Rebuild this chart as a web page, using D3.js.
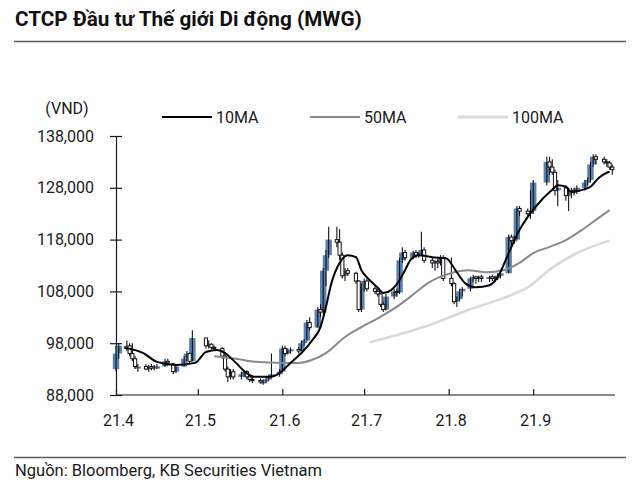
<!DOCTYPE html>
<html><head><meta charset="utf-8">
<script src="https://cdn.jsdelivr.net/npm/d3@7"></script>
<style>html,body{margin:0;padding:0;background:#fff;} svg{display:block;font-family:Roboto,"Noto Sans",sans-serif;}</style>
</head><body><svg id="c" width="640" height="489"></svg>
<script>
// ---- DATA (prices in thousand VND) ----
const titleText = "CTCP Đầu tư Thế giới Di động (MWG)";
const sourceText = "Nguồn: Bloomberg, KB Securities Vietnam";
const unitLabel = "(VND)";
const seriesNames = ["10MA", "50MA", "100MA"];
const yTicks = [88000, 98000, 108000, 118000, 128000, 138000];
const xTickMonths = ["2021-04-01","2021-05-01","2021-06-01","2021-07-01","2021-08-01","2021-09-01"];

const dates = ["04-01","04-02","04-05","04-06","04-07","04-08","04-09","04-12","04-13","04-14","04-15","04-16","04-19","04-20","04-22","04-23","04-26","04-27","04-28","04-29",
"05-04","05-05","05-06","05-07","05-10","05-11","05-12","05-13","05-14","05-17","05-18","05-19","05-20","05-21","05-24","05-25","05-26","05-27","05-28","05-31",
"06-01","06-02","06-03","06-04","06-07","06-08","06-09","06-10","06-11","06-14","06-15","06-16","06-17","06-18","06-21","06-22","06-23","06-24","06-25","06-28","06-29","06-30",
"07-01","07-02","07-05","07-06","07-07","07-08","07-09","07-12","07-13","07-14","07-15","07-16","07-19","07-20","07-21","07-22","07-23","07-26","07-27","07-28","07-29","07-30",
"08-02","08-03","08-04","08-05","08-06","08-09","08-10","08-11","08-12","08-13","08-16","08-17","08-18","08-19","08-20","08-23","08-24","08-25","08-26","08-27","08-30","08-31",
"09-01","09-06","09-07","09-08","09-09","09-10","09-13","09-14","09-15","09-16","09-17","09-20","09-21","09-22","09-23","09-24","09-27","09-28","09-29","09-30"];

const open = [93.0,96.0,97.5,97.5,96.0,95.0,93.5,93.5,93.0,93.5,93.2,93.5,93.5,94.5,94.0,92.5,93.5,95.0,96.0,94.5,
99.0,97.5,97.8,97.2,97.0,95.5,93.0,91.5,92.5,91.5,92.0,92.5,91.5,91.0,90.8,90.5,90.6,91.0,91.5,92.0,
92.5,97.0,96.0,96.5,96.8,96.5,98.0,98.5,102.0,101.0,104.5,104.0,112.0,115.0,118.0,117.5,115.0,111.0,112.0,111.5,110.0,104.5,
109.0,110.0,108.5,108.0,107.5,105.5,104.5,107.0,108.0,107.8,114.0,115.5,114.5,115.5,115.0,115.2,116.0,114.0,113.5,113.8,113.5,114.5,
110.5,109.5,106.0,106.5,108.0,108.5,110.5,110.8,110.5,110.8,110.5,110.8,110.5,110.8,111.0,111.5,118.5,117.8,118.0,124.0,123.5,123.0,
123.5,129.0,133.0,132.0,131.0,127.5,128.0,126.5,127.0,127.5,127.2,128.0,129.0,129.5,132.5,134.0,133.5,133.0,132.8,132.0];
const high = [97.5,98.0,98.5,98.0,98.0,95.5,94.0,94.0,93.8,94.0,93.8,94.0,95.0,95.0,94.2,93.8,95.5,96.5,96.2,100.5,
99.0,98.5,98.0,97.5,97.2,96.0,93.5,93.0,93.0,92.5,92.8,92.8,91.8,91.5,91.2,91.0,91.2,91.8,96.0,93.0,
97.5,97.5,97.0,97.2,97.2,98.5,98.8,102.5,103.0,105.0,105.5,112.5,116.0,120.5,120.5,120.0,115.5,112.5,112.5,111.8,110.2,109.5,
110.5,110.5,109.0,108.5,107.8,106.0,107.5,108.5,108.5,114.5,116.5,116.0,115.8,116.0,115.5,119.5,116.5,114.5,114.0,114.2,115.0,115.0,
114.5,109.8,107.0,108.5,108.8,110.8,111.2,111.0,111.0,111.2,111.0,111.2,111.0,111.5,112.0,119.0,119.0,118.8,124.5,124.5,124.0,127.5,
129.5,134.0,134.0,133.5,131.5,129.5,128.5,128.0,128.0,128.0,128.5,129.5,130.0,133.0,134.5,134.5,134.0,133.5,133.2,132.5];
const low = [92.5,95.0,96.5,95.5,94.5,93.0,92.5,92.8,92.5,92.8,92.8,93.0,93.5,93.8,92.0,92.2,93.5,94.5,94.0,94.5,
97.0,97.0,96.8,96.5,95.0,92.5,90.5,91.0,91.0,91.0,91.5,91.0,90.5,90.3,90.2,90.0,90.3,90.8,91.2,91.5,
92.5,95.5,95.8,96.0,96.0,96.5,97.5,98.5,100.5,101.0,103.0,103.5,109.0,114.5,116.5,114.0,110.5,110.0,111.0,109.5,104.0,104.0,
108.0,108.0,107.5,107.0,105.0,104.0,104.3,106.5,107.0,107.5,113.5,114.0,114.2,114.5,114.5,115.0,113.5,112.5,112.0,112.5,113.0,110.0,
109.0,105.5,105.0,106.2,107.0,108.0,109.8,109.5,109.8,109.8,109.8,110.0,109.8,110.2,110.5,111.5,117.0,117.2,118.0,122.5,122.5,122.0,
123.0,128.5,130.5,130.5,126.5,124.5,125.5,123.5,126.0,126.5,126.8,127.5,128.5,129.0,132.0,132.5,132.5,132.0,131.5,130.5];
const close = [96.0,97.5,97.5,96.0,95.0,93.5,93.5,93.0,93.5,93.2,93.5,93.5,94.5,94.2,92.5,93.5,95.0,96.0,94.5,99.0,
97.5,97.8,97.2,97.0,95.5,93.0,91.5,92.5,91.5,92.0,92.5,91.5,91.0,90.8,90.5,90.6,91.0,91.5,92.0,92.5,
97.0,96.0,96.5,96.8,96.5,98.0,98.5,102.0,101.0,104.5,104.0,112.0,115.0,118.0,117.5,115.0,111.0,112.0,111.5,110.0,104.5,109.0,
110.0,108.5,108.0,107.5,105.5,104.5,107.0,108.0,107.8,114.0,115.5,114.5,115.5,115.0,115.2,116.0,114.0,113.5,113.8,113.5,114.5,110.5,
109.5,106.0,106.5,108.0,108.5,110.5,110.8,110.5,110.8,110.5,110.8,110.5,110.8,111.0,111.5,118.5,117.8,118.0,124.0,123.5,123.0,123.5,
129.0,133.0,132.0,131.0,127.5,128.0,126.5,127.0,127.5,127.2,128.0,129.0,129.5,132.5,134.0,133.5,133.0,132.8,132.0,131.5];

const ma10 = [["04-04",97.1],["04-11",96.1],["04-16",94.4],["04-23",93.8],["04-30",94.2],["05-04",96.3],["05-08",96.7],["05-11",96.1],["05-15",94.2],["05-19",92.2],["05-22",91.5],["05-27",91.5],["05-30",91.9],["06-04",94.2],["06-08",96.1],["06-12",98.6],["06-15",101.1],["06-17",105.0],["06-19",109.6],["06-22",113.5],["06-25",115.0],["06-28",114.6],["06-30",112.1],["07-03",110.2],["07-06",108.7],["07-08",107.7],["07-11",108.3],["07-14",110.2],["07-16",112.1],["07-18",114.1],["07-21",115.0],["07-26",114.6],["07-31",114.4],["08-04",111.7],["08-07",109.6],["08-11",108.8],["08-16",109.2],["08-19",110.8],["08-23",115.4],["08-27",119.9],["08-30",122.4],["09-04",125.6],["09-08",127.6],["09-10",128.5],["09-13",128.2],["09-15",127.2],["09-19",127.6],["09-22",128.2],["09-25",129.9],["09-28",130.9],["09-29",131.1]];
const ma50 = [["05-07",95.5],["05-15",95.0],["05-22",94.4],["06-01",94.2],["06-07",94.2],["06-12",94.8],["06-17",96.1],["06-24",99.2],["06-30",101.1],["07-07",103.1],["07-14",105.4],["07-18",107.0],["07-25",109.8],["07-28",110.6],["08-03",111.7],["08-08",112.1],["08-15",111.7],["08-21",112.1],["08-27",113.5],["09-01",115.4],["09-07",116.6],["09-13",117.9],["09-19",119.9],["09-25",122.2],["09-29",123.7]];
const ma100 = [["07-03",98.2],["07-09",99.0],["07-16",100.0],["07-25",101.5],["08-01",102.9],["08-08",104.4],["08-21",106.7],["08-30",108.8],["09-08",112.6],["09-17",115.4],["09-29",117.8]];

// ---- CHART ----
const svg = d3.select("#c");
const parse = s => d3.timeParse("%Y-%m-%d")("2021-" + s);
const x = d3.scaleTime().domain([new Date(2021,3,1), new Date(2021,9,1)]).range([116, 615]);
const y = d3.scaleLinear().domain([88000, 138000]).range([395, 136]);
const K = 1000;
const ink = "#1a1a1a";
const blue = "#5a80b0";

// title
const t = svg.append("text").attr("x", 15).attr("y", 26).attr("font-weight", 700)
  .attr("font-size", 18).attr("fill", "#111").text(titleText);
const tw = t.node().getComputedTextLength();
t.attr("font-size", 18 * 347 / tw);
svg.append("line").attr("x1", 14).attr("x2", 626).attr("y1", 41.5).attr("y2", 41.5)
  .attr("stroke", "#5a5a5a").attr("stroke-width", 1.6);

// unit
svg.append("text").attr("x", 67).attr("y", 114).attr("text-anchor", "middle")
  .attr("font-size", 16).attr("fill", ink).text(unitLabel);

// legend
const legColors = ["#000000", "#8a8a8a", "#d9d9d9"];
const legX = [162, 310, 458];
seriesNames.forEach((n, i) => {
  svg.append("line").attr("x1", legX[i]).attr("x2", legX[i] + 50).attr("y1", 117).attr("y2", 117)
    .attr("stroke", legColors[i]).attr("stroke-width", i === 2 ? 3 : 2);
  svg.append("text").attr("x", legX[i] + 54).attr("y", 122.5).attr("font-size", 16).attr("fill", ink).text(n);
});

// y axis
const ya = svg.append("g").attr("transform", "translate(116,0)")
  .call(d3.axisLeft(y).tickValues(yTicks).tickFormat(d3.format(",")).tickSizeInner(6).tickSizeOuter(0).tickPadding(16));
ya.select(".domain").attr("stroke", ink).attr("stroke-width", 1.2);
ya.selectAll(".tick line").attr("x2", 6).attr("x1", -6).attr("stroke", ink).attr("stroke-width", 1.2);
ya.selectAll(".tick text").attr("font-size", 16).attr("font-family", "Roboto").attr("fill", ink).attr("x", -22);

// x axis
const xa = svg.append("g").attr("transform", "translate(0,395)")
  .call(d3.axisBottom(x).tickValues(xTickMonths.map(s => new Date(s + "T00:00:00"))).tickFormat(d3.timeFormat("%y.%-m")).tickSizeOuter(0).tickPadding(14));
xa.select(".domain").attr("stroke", ink).attr("stroke-width", 1.2).attr("d", "M116,0H615");
xa.selectAll(".tick line").attr("y1", -6).attr("y2", 0).attr("stroke", ink).attr("stroke-width", 1.2);
xa.selectAll(".tick text").attr("font-size", 16).attr("font-family", "Roboto").attr("fill", ink).attr("dx", 2);

// candles
const rows = dates.map((d, i) => ({ d: parse(d), o: open[i] * K, h: high[i] * K, l: low[i] * K, c: close[i] * K }));
const g = svg.append("g");
g.selectAll("rect.up").data(rows.filter(r => r.c >= r.o)).join("rect")
  .attr("x", r => x(r.d) - 3.2).attr("width", 6.4)
  .attr("y", r => y(Math.max(r.o, r.c))).attr("height", r => Math.max(2, y(Math.min(r.o, r.c)) - y(Math.max(r.o, r.c))))
  .attr("fill", blue);
g.selectAll("line.wick").data(rows).join("line")
  .attr("x1", r => x(r.d)).attr("x2", r => x(r.d)).attr("y1", r => y(r.h)).attr("y2", r => y(r.l))
  .attr("stroke", "#111").attr("stroke-width", 1.1);
g.selectAll("rect.dn").data(rows.filter(r => r.c < r.o)).join("rect")
  .attr("x", r => x(r.d) - 1.6).attr("width", 3.2)
  .attr("y", r => y(Math.max(r.o, r.c))).attr("height", r => Math.max(1, y(Math.min(r.o, r.c)) - y(Math.max(r.o, r.c))))
  .attr("fill", "#fff").attr("stroke", "#111").attr("stroke-width", 1);

// moving averages
const line = d3.line().x(p => x(parse(p[0]))).y(p => y(p[1] * K)).curve(d3.curveMonotoneX);
[[ma100, "#d9d9d9", 2.6], [ma50, "#8a8a8a", 2], [ma10, "#000000", 2]].forEach(([s, c, w]) => {
  svg.append("path").attr("d", line(s)).attr("fill", "none").attr("stroke", c).attr("stroke-width", w);
});

// footer
svg.append("line").attr("x1", 14).attr("x2", 626).attr("y1", 457.5).attr("y2", 457.5)
  .attr("stroke", "#5a5a5a").attr("stroke-width", 1.4);
const s = svg.append("text").attr("x", 15).attr("y", 476).attr("font-size", 15).attr("fill", ink).text(sourceText);
const sw = s.node().getComputedTextLength();
s.attr("font-size", 15 * 307 / sw);
</script></body></html>
